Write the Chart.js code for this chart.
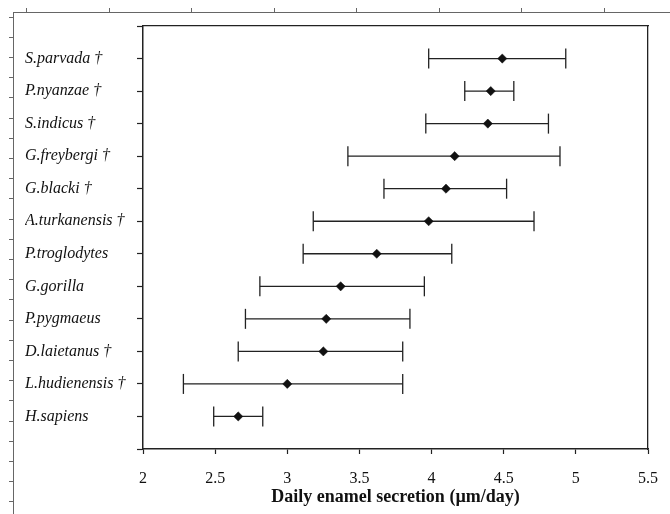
<!DOCTYPE html>
<html>
<head>
<meta charset="utf-8">
<script src="https://cdn.jsdelivr.net/npm/chart.js@4.4.1/dist/chart.umd.min.js"></script>
<style>
  body { margin: 0; background: #fff; }
  .wrap { position: relative; width: 670px; height: 514px; }
  .wrap canvas { position: absolute; left: 0; top: 0; }
</style>
</head>
<body>
<div class="wrap">
  <canvas id="frame" width="670" height="514"></canvas>
  <canvas id="chart" width="670" height="514"></canvas>
</div>
<script>
// species, top to bottom
const species = ['S.parvada †', 'P.nyanzae †', 'S.indicus †', 'G.freybergi †', 'G.blacki †', 'A.turkanensis †',
                 'P.troglodytes', 'G.gorilla', 'P.pygmaeus', 'D.laietanus †', 'L.hudienensis †', 'H.sapiens'];
const means = [4.49, 4.41, 4.39, 4.16, 4.10, 3.98, 3.62, 3.37, 3.27, 3.25, 3.00, 2.66];
const lows  = [3.98, 4.23, 3.96, 3.42, 3.67, 3.18, 3.11, 2.81, 2.71, 2.66, 2.28, 2.49];
const highs = [4.93, 4.57, 4.81, 4.89, 4.52, 4.71, 4.14, 3.95, 3.85, 3.80, 3.80, 2.83];
const xMin = 2, xMax = 5.5, xStep = 0.5;

const n = species.length;
const ink = '#222';

// diamonds
const meanPoints = means.map((m, i) => ({ x: m, y: n - i }));

// error bars, a null point breaks the line between species
const barPoints = [];
lows.forEach((lo, i) => {
  barPoints.push({ x: lo, y: n - i });
  barPoints.push({ x: highs[i], y: n - i });
  barPoints.push({ x: highs[i], y: null });
});

const serif = 'Liberation Serif, Times New Roman, serif';

new Chart(document.getElementById('chart'), {
  type: 'scatter',
  data: {
    datasets: [
      {
        data: meanPoints,
        pointStyle: 'rectRot',
        pointRadius: 4.6,
        backgroundColor: '#111',
        borderColor: '#111',
        borderWidth: 0.5
      },
      {
        type: 'line',
        data: barPoints,
        showLine: true,
        spanGaps: false,
        borderColor: ink,
        borderWidth: 1.3,
        pointStyle: 'line',
        pointRotation: 90,
        pointRadius: 10,
        pointBorderColor: ink,
        pointBorderWidth: 1.3
      }
    ]
  },
  options: {
    responsive: false,
    animation: false,
    layout: { padding: { left: 25, top: 26, right: 22, bottom: 0 } },
    plugins: { legend: { display: false }, tooltip: { enabled: false } },
    scales: {
      x: {
        type: 'linear',
        position: 'bottom',
        min: xMin,
        max: xMax,
        ticks: {
          stepSize: xStep,
          color: '#111',
          padding: 15,
          font: { family: serif, size: 16 },
          callback: v => String(v)
        },
        grid: { drawOnChartArea: false, tickLength: 5, color: ink, tickWidth: 1.2 },
        border: { color: ink, width: 1.5 },
        title: {
          display: true,
          text: 'Daily enamel secretion (µm/day)',
          color: '#111',
          font: { family: serif, size: 18, weight: 'bold' },
          padding: { top: 0, bottom: 6 }
        },
        afterFit: s => { s.height = 65; s.paddingRight = 0; s.paddingLeft = 0; }
      },
      y: {
        type: 'linear',
        position: 'left',
        min: 0,
        max: n + 1,
        ticks: {
          stepSize: 1,
          crossAlign: 'far',
          color: '#111',
          font: { family: serif, size: 16, style: 'italic' },
          callback: v => (v >= 1 && v <= n ? species[n - v] : '')
        },
        grid: { drawOnChartArea: false, tickLength: 6, color: ink, tickWidth: 1.2 },
        border: { color: ink, width: 1.5 },
        afterFit: s => { s.width = 118; s.paddingTop = 0; s.paddingBottom = 0; }
      },
      x2: {
        type: 'linear',
        position: 'top',
        min: 0, max: 1,
        ticks: { display: false },
        grid: { display: false },
        border: { color: ink, width: 1.3 },
        afterFit: s => { s.height = 0; }
      },
      y2: {
        type: 'linear',
        position: 'right',
        min: 0, max: 1,
        ticks: { display: false },
        grid: { display: false },
        border: { color: ink, width: 1.3 },
        afterFit: s => { s.width = 0; }
      }
    }
  }
});

// outer frame of the page behind the figure
new Chart(document.getElementById('frame'), {
  type: 'scatter',
  data: { datasets: [{ data: [] }] },
  options: {
    responsive: false,
    animation: false,
    layout: { padding: { left: 9, top: 8, right: 0, bottom: 0 } },
    plugins: { legend: { display: false }, tooltip: { enabled: false } },
    scales: {
      x: {
        type: 'linear',
        position: 'top',
        min: 0, max: 657,
        afterBuildTicks: s => {
          const t = [];
          for (let k = 0; k < 8; k++) t.push({ value: 13.5 + 82.5 * k });
          s.ticks = t;
        },
        ticks: { display: false },
        grid: { drawOnChartArea: false, tickLength: 4, color: '#666' },
        border: { color: '#666', width: 1 },
        afterFit: s => { s.height = 4; }
      },
      y: {
        type: 'linear',
        reverse: true,
        min: 0, max: 502,
        afterBuildTicks: s => {
          const t = [];
          for (let k = 0; k < 25; k++) t.push({ value: 5 + 20.2 * k });
          s.ticks = t;
        },
        ticks: { display: false },
        grid: { drawOnChartArea: false, tickLength: 4, color: '#666' },
        border: { color: '#666', width: 1 },
        afterFit: s => { s.width = 4; }
      }
    }
  }
});
</script>
</body>
</html>
